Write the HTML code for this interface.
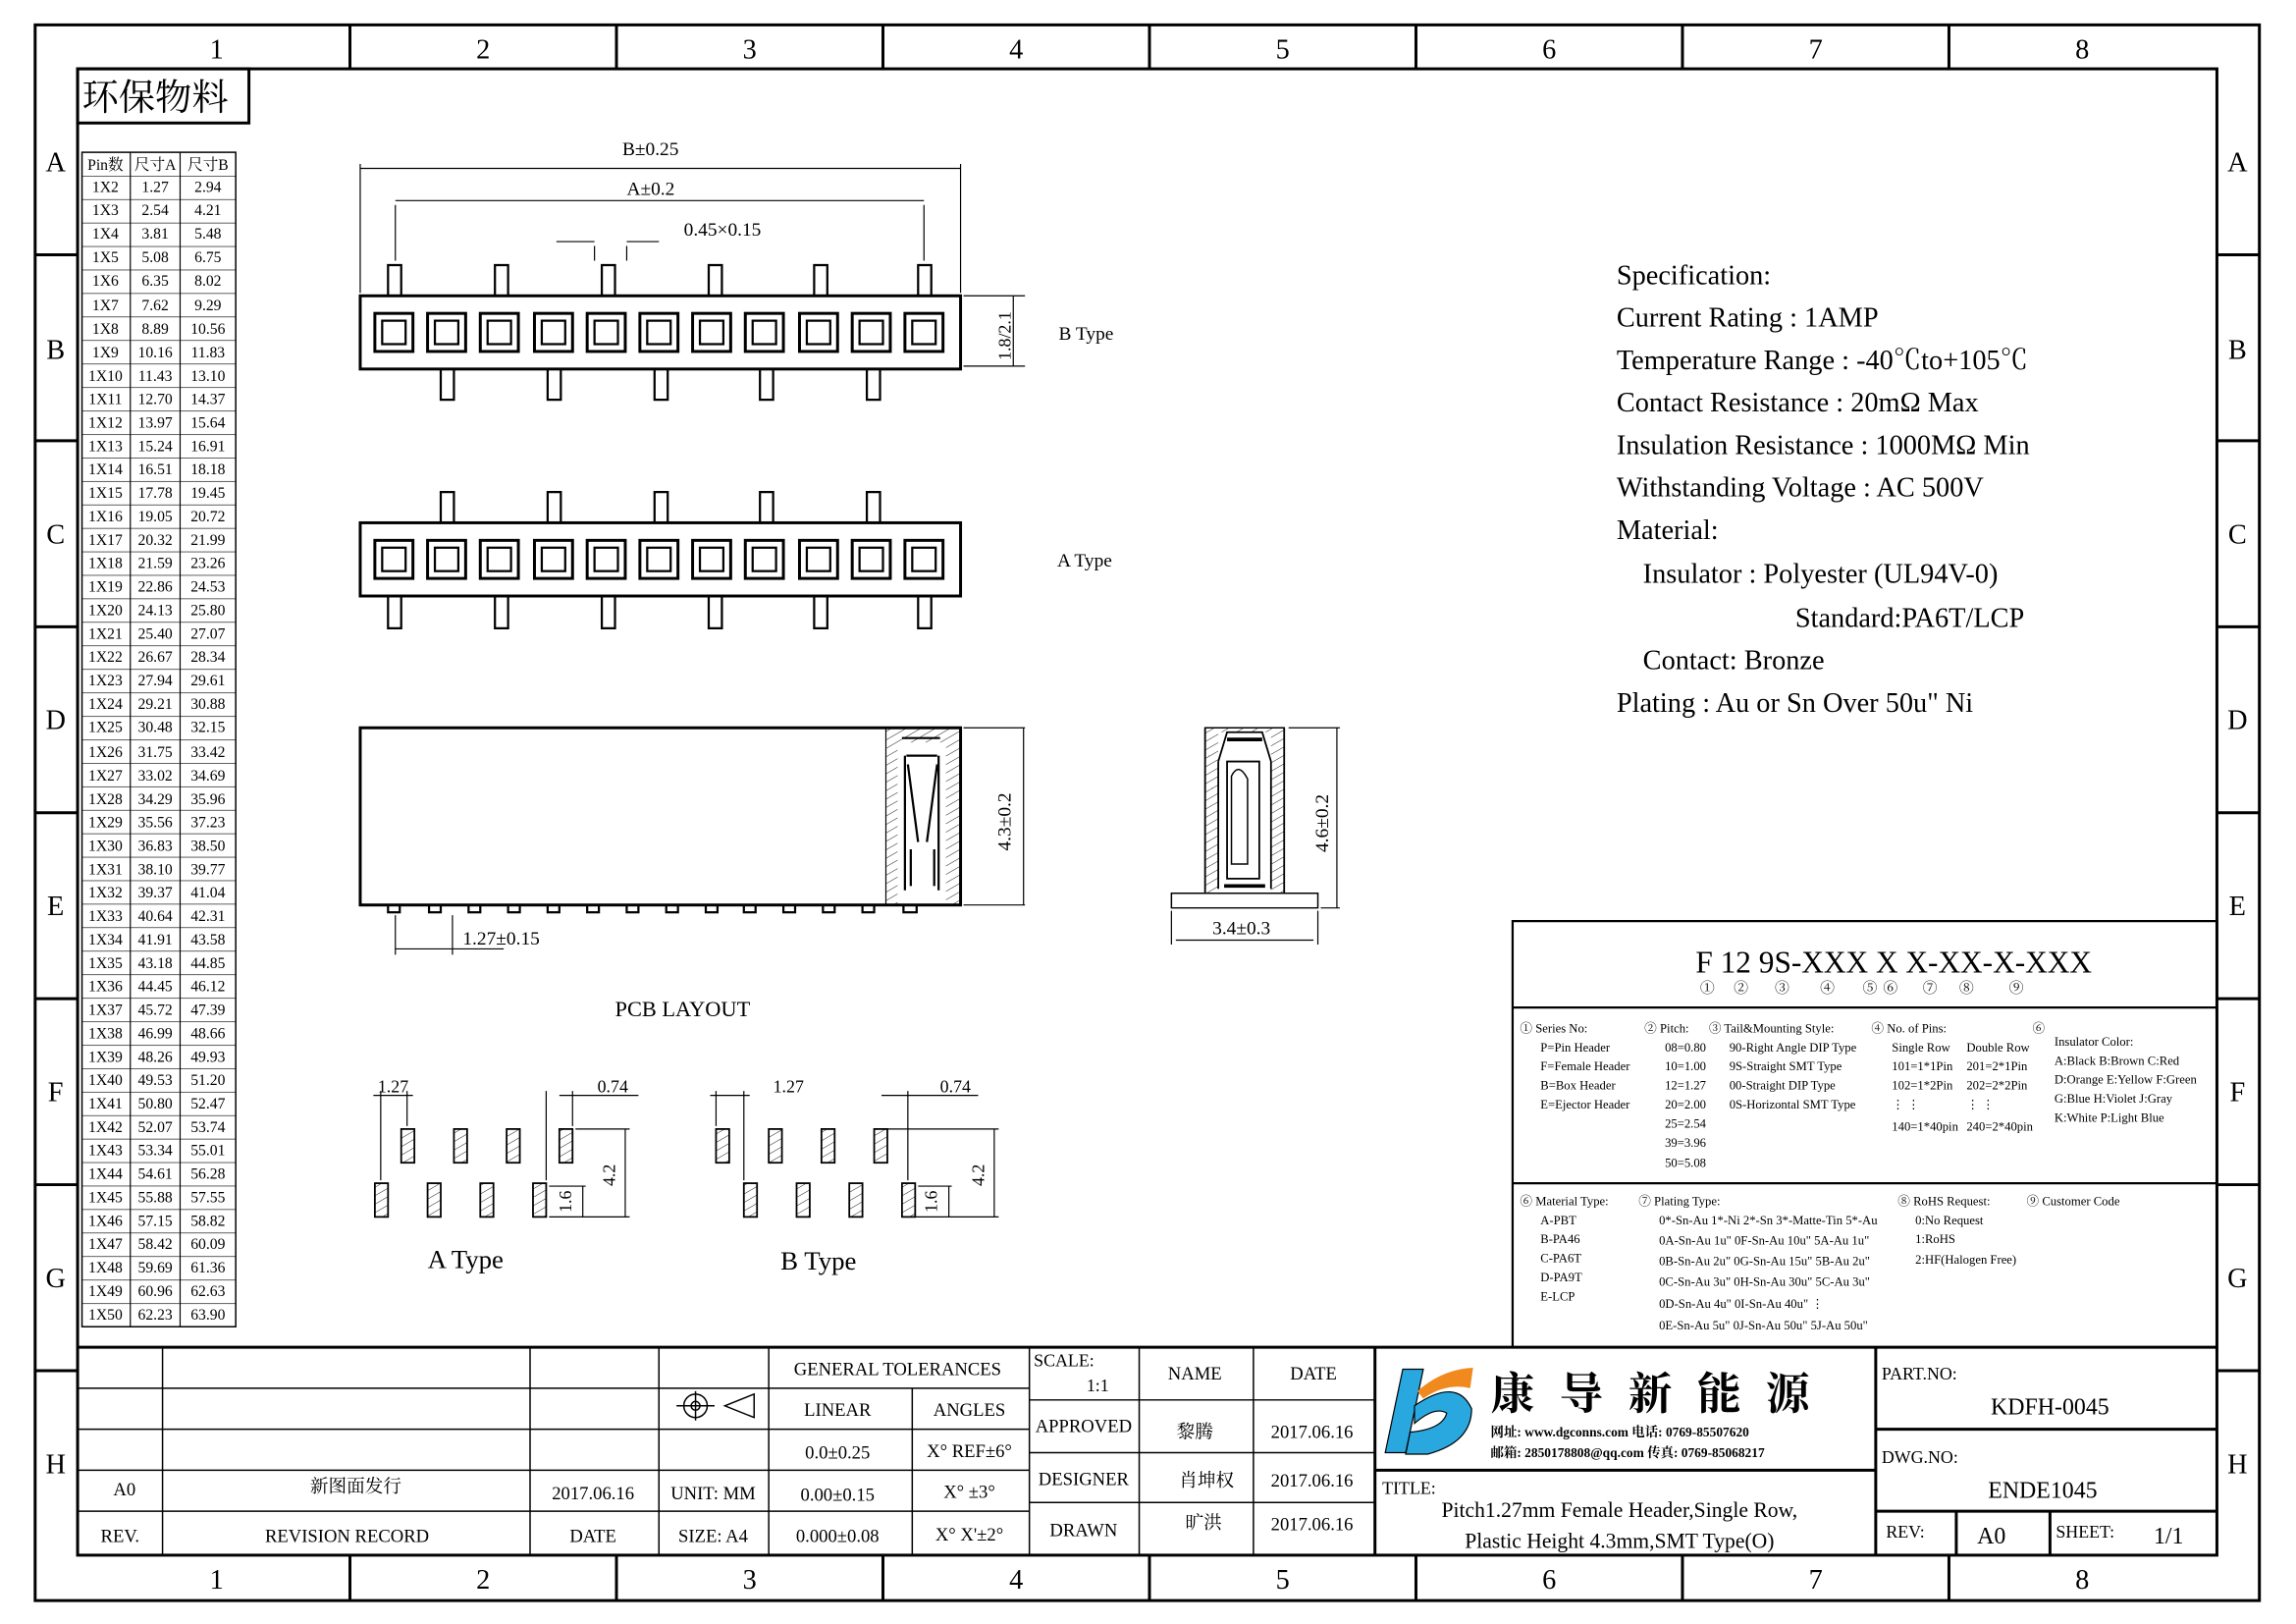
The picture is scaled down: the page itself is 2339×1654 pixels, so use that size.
<!DOCTYPE html>
<html><head><meta charset="utf-8"><style>
html,body{margin:0;padding:0;background:#fff}
svg{display:block}
text{font-family:"Liberation Serif","Noto Serif CJK SC",serif;fill:#000}
.s{font-family:"Liberation Sans","Noto Sans CJK SC",sans-serif}
</style></head><body>
<svg width="2339" height="1654" viewBox="0 0 1568 1109" preserveAspectRatio="none" xmlns="http://www.w3.org/2000/svg">
<defs>
<pattern id="h" width="5" height="5" patternUnits="userSpaceOnUse" patternTransform="rotate(60)"><line x1="0" y1="0" x2="0" y2="5" stroke="#000" stroke-width="0.6"/></pattern>
<pattern id="rl" x="0" y="120" width="200" height="16.04" patternUnits="userSpaceOnUse"><line x1="0" y1="0" x2="200" y2="0" stroke="#000" stroke-width="0.8"/></pattern>
</defs>
<rect width="1568" height="1109" fill="#fff"/>
<rect x="24" y="17" width="1519" height="1076" fill="none" stroke="#000" stroke-width="2"/>
<rect x="53" y="47" width="1461" height="1015" fill="none" stroke="#000" stroke-width="2"/>
<g stroke="#000" stroke-width="2">
<path d="M239 17V47M421 17V47M603 17V47M785 17V47M967 17V47M1149 17V47M1331 17V47M239 1062V1093M421 1062V1093M603 1062V1093M785 1062V1093M967 1062V1093M1149 1062V1093M1331 1062V1093"/>
<path d="M24 174H53M24 301H53M24 428H53M24 555H53M24 682H53M24 809H53M24 936H53M1514 174H1543M1514 301H1543M1514 428H1543M1514 555H1543M1514 682H1543M1514 809H1543M1514 936H1543"/>
</g>
<g font-size="19" text-anchor="middle" class="s">
<text x="148" y="40">1</text><text x="330" y="40">2</text><text x="512" y="40">3</text><text x="694" y="40">4</text><text x="876" y="40">5</text><text x="1058" y="40">6</text><text x="1240" y="40">7</text><text x="1422" y="40">8</text>
<text x="148" y="1085">1</text><text x="330" y="1085">2</text><text x="512" y="1085">3</text><text x="694" y="1085">4</text><text x="876" y="1085">5</text><text x="1058" y="1085">6</text><text x="1240" y="1085">7</text><text x="1422" y="1085">8</text>
<text x="38" y="117">A</text><text x="38" y="245">B</text><text x="38" y="371">C</text><text x="38" y="498">D</text><text x="38" y="625">E</text><text x="38" y="752">F</text><text x="38" y="879">G</text><text x="38" y="1006">H</text>
<text x="1528" y="117">A</text><text x="1528" y="245">B</text><text x="1528" y="371">C</text><text x="1528" y="498">D</text><text x="1528" y="625">E</text><text x="1528" y="752">F</text><text x="1528" y="879">G</text><text x="1528" y="1006">H</text>
</g>
<rect x="53" y="47" width="117" height="37" fill="none" stroke="#000" stroke-width="2"/>
<text x="56" y="75" font-size="25">环保物料</text>
<rect x="56" y="104" width="105" height="802" fill="none" stroke="#000" stroke-width="1"/>
<rect x="56" y="120" width="105" height="786" fill="url(#rl)"/>
<path d="M89 104V906M123 104V906" stroke="#000" stroke-width="0.8"/>
<g font-size="10.5" text-anchor="middle">
<text x="72" y="116">Pin数</text><text x="106" y="116">尺寸A</text><text x="142" y="116">尺寸B</text>
<text x="72" y="131">1X2</text><text x="106" y="131">1.27</text><text x="142" y="131">2.94</text>
<text x="72" y="147">1X3</text><text x="106" y="147">2.54</text><text x="142" y="147">4.21</text>
<text x="72" y="163">1X4</text><text x="106" y="163">3.81</text><text x="142" y="163">5.48</text>
<text x="72" y="179">1X5</text><text x="106" y="179">5.08</text><text x="142" y="179">6.75</text>
<text x="72" y="195">1X6</text><text x="106" y="195">6.35</text><text x="142" y="195">8.02</text>
<text x="72" y="212">1X7</text><text x="106" y="212">7.62</text><text x="142" y="212">9.29</text>
<text x="72" y="228">1X8</text><text x="106" y="228">8.89</text><text x="142" y="228">10.56</text>
<text x="72" y="244">1X9</text><text x="106" y="244">10.16</text><text x="142" y="244">11.83</text>
<text x="72" y="260">1X10</text><text x="106" y="260">11.43</text><text x="142" y="260">13.10</text>
<text x="72" y="276">1X11</text><text x="106" y="276">12.70</text><text x="142" y="276">14.37</text>
<text x="72" y="292">1X12</text><text x="106" y="292">13.97</text><text x="142" y="292">15.64</text>
<text x="72" y="308">1X13</text><text x="106" y="308">15.24</text><text x="142" y="308">16.91</text>
<text x="72" y="324">1X14</text><text x="106" y="324">16.51</text><text x="142" y="324">18.18</text>
<text x="72" y="340">1X15</text><text x="106" y="340">17.78</text><text x="142" y="340">19.45</text>
<text x="72" y="356">1X16</text><text x="106" y="356">19.05</text><text x="142" y="356">20.72</text>
<text x="72" y="372">1X17</text><text x="106" y="372">20.32</text><text x="142" y="372">21.99</text>
<text x="72" y="388">1X18</text><text x="106" y="388">21.59</text><text x="142" y="388">23.26</text>
<text x="72" y="404">1X19</text><text x="106" y="404">22.86</text><text x="142" y="404">24.53</text>
<text x="72" y="420">1X20</text><text x="106" y="420">24.13</text><text x="142" y="420">25.80</text>
<text x="72" y="436">1X21</text><text x="106" y="436">25.40</text><text x="142" y="436">27.07</text>
<text x="72" y="452">1X22</text><text x="106" y="452">26.67</text><text x="142" y="452">28.34</text>
<text x="72" y="468">1X23</text><text x="106" y="468">27.94</text><text x="142" y="468">29.61</text>
<text x="72" y="484">1X24</text><text x="106" y="484">29.21</text><text x="142" y="484">30.88</text>
<text x="72" y="500">1X25</text><text x="106" y="500">30.48</text><text x="142" y="500">32.15</text>
<text x="72" y="517">1X26</text><text x="106" y="517">31.75</text><text x="142" y="517">33.42</text>
<text x="72" y="533">1X27</text><text x="106" y="533">33.02</text><text x="142" y="533">34.69</text>
<text x="72" y="549">1X28</text><text x="106" y="549">34.29</text><text x="142" y="549">35.96</text>
<text x="72" y="565">1X29</text><text x="106" y="565">35.56</text><text x="142" y="565">37.23</text>
<text x="72" y="581">1X30</text><text x="106" y="581">36.83</text><text x="142" y="581">38.50</text>
<text x="72" y="597">1X31</text><text x="106" y="597">38.10</text><text x="142" y="597">39.77</text>
<text x="72" y="613">1X32</text><text x="106" y="613">39.37</text><text x="142" y="613">41.04</text>
<text x="72" y="629">1X33</text><text x="106" y="629">40.64</text><text x="142" y="629">42.31</text>
<text x="72" y="645">1X34</text><text x="106" y="645">41.91</text><text x="142" y="645">43.58</text>
<text x="72" y="661">1X35</text><text x="106" y="661">43.18</text><text x="142" y="661">44.85</text>
<text x="72" y="677">1X36</text><text x="106" y="677">44.45</text><text x="142" y="677">46.12</text>
<text x="72" y="693">1X37</text><text x="106" y="693">45.72</text><text x="142" y="693">47.39</text>
<text x="72" y="709">1X38</text><text x="106" y="709">46.99</text><text x="142" y="709">48.66</text>
<text x="72" y="725">1X39</text><text x="106" y="725">48.26</text><text x="142" y="725">49.93</text>
<text x="72" y="741">1X40</text><text x="106" y="741">49.53</text><text x="142" y="741">51.20</text>
<text x="72" y="757">1X41</text><text x="106" y="757">50.80</text><text x="142" y="757">52.47</text>
<text x="72" y="773">1X42</text><text x="106" y="773">52.07</text><text x="142" y="773">53.74</text>
<text x="72" y="789">1X43</text><text x="106" y="789">53.34</text><text x="142" y="789">55.01</text>
<text x="72" y="805">1X44</text><text x="106" y="805">54.61</text><text x="142" y="805">56.28</text>
<text x="72" y="821">1X45</text><text x="106" y="821">55.88</text><text x="142" y="821">57.55</text>
<text x="72" y="837">1X46</text><text x="106" y="837">57.15</text><text x="142" y="837">58.82</text>
<text x="72" y="853">1X47</text><text x="106" y="853">58.42</text><text x="142" y="853">60.09</text>
<text x="72" y="869">1X48</text><text x="106" y="869">59.69</text><text x="142" y="869">61.36</text>
<text x="72" y="885">1X49</text><text x="106" y="885">60.96</text><text x="142" y="885">62.63</text>
<text x="72" y="901">1X50</text><text x="106" y="901">62.23</text><text x="142" y="901">63.90</text>
</g>

<g stroke="#000" fill="none">
<path d="M246 112V200M656 112V200M270 140V178M631 140V178M406 168V178M428 168V178" stroke-width="0.8"/>
<path d="M246 115H656M270 137H631M380 165H406M428 165H450" stroke-width="0.8"/>
<rect x="246" y="202" width="410" height="50" stroke-width="2"/>
<g stroke-width="1.5">
<path d="M265 202V181H274V202M338 202V181H347V202M411 202V181H420V202M484 202V181H493V202M556 202V181H565V202M627 202V181H636V202"/>
<path d="M301 252V273H310V252M374 252V273H383V252M447 252V273H456V252M519 252V273H528V252M592 252V273H601V252"/>
</g>
<g stroke-width="2">
<rect x="256" y="214" width="26" height="26"/><rect x="292" y="214" width="26" height="26"/><rect x="328" y="214" width="26" height="26"/><rect x="365" y="214" width="26" height="26"/><rect x="401" y="214" width="26" height="26"/><rect x="437" y="214" width="26" height="26"/><rect x="473" y="214" width="26" height="26"/><rect x="509" y="214" width="26" height="26"/><rect x="546" y="214" width="26" height="26"/><rect x="582" y="214" width="26" height="26"/><rect x="618" y="214" width="26" height="26"/>
</g>
<g stroke-width="1.5">
<rect x="261" y="219" width="16" height="16"/><rect x="297" y="219" width="16" height="16"/><rect x="333" y="219" width="16" height="16"/><rect x="370" y="219" width="16" height="16"/><rect x="406" y="219" width="16" height="16"/><rect x="442" y="219" width="16" height="16"/><rect x="478" y="219" width="16" height="16"/><rect x="514" y="219" width="16" height="16"/><rect x="551" y="219" width="16" height="16"/><rect x="587" y="219" width="16" height="16"/><rect x="623" y="219" width="16" height="16"/>
</g>
<path d="M658 202H700M658 250H700M692 202V250" stroke-width="0.8"/>
</g>
<g font-size="13"><text x="425" y="106">B±0.25</text><text x="428" y="133">A±0.2</text><text x="467" y="161">0.45×0.15</text><text x="723" y="232">B Type</text></g>
<text x="0" y="0" font-size="12" transform="translate(690 246) rotate(-90)">1.8/2.1</text>

<g stroke="#000" fill="none">
<rect x="246" y="357" width="410" height="50" stroke-width="2"/>
<g stroke-width="1.5">
<path d="M301 357V336H310V357M374 357V336H383V357M447 357V336H456V357M519 357V336H528V357M592 357V336H601V357"/>
<path d="M265 407V429H274V407M338 407V429H347V407M411 407V429H420V407M484 407V429H493V407M556 407V429H565V407M627 407V429H636V407"/>
</g>
<g stroke-width="2">
<rect x="256" y="369" width="26" height="26"/><rect x="292" y="369" width="26" height="26"/><rect x="328" y="369" width="26" height="26"/><rect x="365" y="369" width="26" height="26"/><rect x="401" y="369" width="26" height="26"/><rect x="437" y="369" width="26" height="26"/><rect x="473" y="369" width="26" height="26"/><rect x="509" y="369" width="26" height="26"/><rect x="546" y="369" width="26" height="26"/><rect x="582" y="369" width="26" height="26"/><rect x="618" y="369" width="26" height="26"/>
</g>
<g stroke-width="1.5">
<rect x="261" y="374" width="16" height="16"/><rect x="297" y="374" width="16" height="16"/><rect x="333" y="374" width="16" height="16"/><rect x="370" y="374" width="16" height="16"/><rect x="406" y="374" width="16" height="16"/><rect x="442" y="374" width="16" height="16"/><rect x="478" y="374" width="16" height="16"/><rect x="514" y="374" width="16" height="16"/><rect x="551" y="374" width="16" height="16"/><rect x="587" y="374" width="16" height="16"/><rect x="623" y="374" width="16" height="16"/>
</g>
</g>
<text x="722" y="387" font-size="13">A Type</text>

<g stroke="#000" fill="none">
<rect x="605" y="497" width="51" height="121" fill="url(#h)" stroke-width="0.8"/>
<rect x="613" y="507" width="33" height="111" fill="#fff" stroke="none"/>
<rect x="246" y="497" width="410" height="121" stroke-width="2"/>
<path d="M616 504H642M619 516H640M618 516V608M641 516V608M620 522L627 575M640 522L633 575M622 580V605M638 580V605" stroke-width="1.5"/>
<g stroke-width="1.5">
<rect x="265" y="618" width="8" height="5"/><rect x="293" y="618" width="8" height="5"/><rect x="320" y="618" width="8" height="5"/><rect x="347" y="618" width="8" height="5"/><rect x="374" y="618" width="8" height="5"/><rect x="401" y="618" width="8" height="5"/><rect x="428" y="618" width="8" height="5"/><rect x="455" y="618" width="8" height="5"/><rect x="482" y="618" width="8" height="5"/><rect x="508" y="618" width="8" height="5"/><rect x="535" y="618" width="8" height="5"/><rect x="562" y="618" width="8" height="5"/><rect x="589" y="618" width="8" height="5"/><rect x="617" y="618" width="9" height="5"/>
</g>
<path d="M658 497H700M658 618H700M699 497V618M270 625V652M309 625V652M270 648H344" stroke-width="0.8"/>
</g>
<text x="316" y="645" font-size="13">1.27±0.15</text>
<text x="0" y="0" font-size="13" transform="translate(690 581) rotate(-90)">4.3±0.2</text>

<g stroke="#000" fill="none">
<rect x="823" y="497" width="54" height="113" fill="url(#h)" stroke-width="1"/>
<path d="M832 500H868V610H832Z" fill="#fff" stroke="none"/>
<path d="M823 497V612M877 497V612M832 520V607M868 520V607M832 520L838 500H862L868 520M838 520H860V600H838Z" stroke-width="1.2"/>
<path d="M841 530V590H852V532Q846 520 841 530Z" stroke-width="1"/>
<path d="M836 605H864M838 505H862" stroke-width="2.5"/>
<path d="M800 610H900V620H800Z" fill="#fff" stroke-width="1"/>
<path d="M800 622V645M900 622V645M803 642H897M880 497H915M902 620H915M913 497V620" stroke-width="0.8"/>
</g>
<text x="828" y="638" font-size="13">3.4±0.3</text>
<text x="0" y="0" font-size="13" transform="translate(907 582) rotate(-90)">4.6±0.2</text>

<text x="420" y="694" font-size="15">PCB LAYOUT</text>
<g stroke="#000" stroke-width="1.2" fill="url(#h)">
<rect x="274" y="771" width="9" height="23"/><rect x="310" y="771" width="9" height="23"/><rect x="346" y="771" width="9" height="23"/><rect x="382" y="771" width="9" height="23"/>
<rect x="256" y="808" width="9" height="23"/><rect x="292" y="808" width="9" height="23"/><rect x="328" y="808" width="9" height="23"/><rect x="364" y="808" width="9" height="23"/>
<rect x="489" y="771" width="9" height="23"/><rect x="525" y="771" width="9" height="23"/><rect x="561" y="771" width="9" height="23"/><rect x="597" y="771" width="9" height="23"/>
<rect x="508" y="808" width="9" height="23"/><rect x="544" y="808" width="9" height="23"/><rect x="580" y="808" width="9" height="23"/><rect x="616" y="808" width="9" height="23"/>
</g>
<g stroke="#000" stroke-width="0.8" fill="none">
<path d="M260 745V806M278 745V769M255 748H282M382 748H436M373 745V806M391 745V769M375 831H430M393 771H430M427 771V831M375 810H400M398 810V831"/>
<path d="M489 745V769M508 745V806M485 748H512M602 748H668M620 745V806M625 831H682M606 771H682M679 771V831M627 810H650M648 810V831"/>
</g>
<g font-size="12"><text x="258" y="746">1.27</text><text x="408" y="746">0.74</text><text x="528" y="746">1.27</text><text x="642" y="746">0.74</text></g>
<g font-size="12"><text transform="translate(420 810) rotate(-90)">4.2</text><text transform="translate(390 828) rotate(-90)">1.6</text><text transform="translate(672 810) rotate(-90)">4.2</text><text transform="translate(640 828) rotate(-90)">1.6</text></g>
<text x="292" y="866" font-size="18">A Type</text><text x="533" y="867" font-size="18">B Type</text>

<g font-size="19">
<text x="1104" y="194">Specification:</text>
<text x="1104" y="223">Current Rating : 1AMP</text>
<text x="1104" y="252">Temperature Range : -40℃to+105℃</text>
<text x="1104" y="281">Contact Resistance : 20mΩ Max</text>
<text x="1104" y="310">Insulation Resistance : 1000MΩ Min</text>
<text x="1104" y="339">Withstanding Voltage : AC 500V</text>
<text x="1104" y="368">Material:</text>
<text x="1122" y="398">Insulator : Polyester (UL94V-0)</text>
<text x="1226" y="428">Standard:PA6T/LCP</text>
<text x="1122" y="457">Contact: Bronze</text>
<text x="1104" y="486">Plating : Au or Sn Over 50u" Ni</text>
</g>

<g stroke="#000" fill="none" stroke-width="1.5">
<rect x="1033" y="629" width="481" height="291"/>
<path d="M1033 688H1514M1033 808H1514"/>
</g>
<text x="1158" y="664" font-size="21">F 12 9S-XXX X X-XX-X-XXX</text>
<g font-size="10" text-anchor="middle"><text x="1166" y="678">①</text><text x="1189" y="678">②</text><text x="1217" y="678">③</text><text x="1248" y="678">④</text><text x="1277" y="678">⑤</text><text x="1291" y="678">⑥</text><text x="1318" y="678">⑦</text><text x="1343" y="678">⑧</text><text x="1377" y="678">⑨</text></g>
<g font-size="8.5">
<text x="1038" y="705">① Series No:</text><text x="1052" y="718">P=Pin Header</text><text x="1052" y="731">F=Female Header</text><text x="1052" y="744">B=Box Header</text><text x="1052" y="757">E=Ejector Header</text>
<text x="1123" y="705">② Pitch:</text><text x="1137" y="718">08=0.80</text><text x="1137" y="731">10=1.00</text><text x="1137" y="744">12=1.27</text><text x="1137" y="757">20=2.00</text><text x="1137" y="770">25=2.54</text><text x="1137" y="783">39=3.96</text><text x="1137" y="797">50=5.08</text>
<text x="1167" y="705">③ Tail&amp;Mounting Style:</text><text x="1181" y="718">90-Right Angle DIP Type</text><text x="1181" y="731">9S-Straight SMT Type</text><text x="1181" y="744">00-Straight DIP Type</text><text x="1181" y="757">0S-Horizontal SMT Type</text>
<text x="1278" y="705">④ No. of Pins:</text><text x="1292" y="718">Single Row</text><text x="1343" y="718">Double Row</text><text x="1292" y="731">101=1*1Pin</text><text x="1343" y="731">201=2*1Pin</text><text x="1292" y="744">102=1*2Pin</text><text x="1343" y="744">202=2*2Pin</text><text x="1292" y="757">⋮   ⋮</text><text x="1343" y="757">⋮   ⋮</text><text x="1292" y="772">140=1*40pin</text><text x="1343" y="772">240=2*40pin</text>
<text x="1388" y="705">⑥</text><text x="1403" y="714">Insulator Color:</text><text x="1403" y="727">A:Black  B:Brown  C:Red</text><text x="1403" y="740">D:Orange E:Yellow F:Green</text><text x="1403" y="753">G:Blue   H:Violet J:Gray</text><text x="1403" y="766">K:White  P:Light Blue</text>
<text x="1038" y="823">⑥ Material Type:</text><text x="1052" y="836">A-PBT</text><text x="1052" y="849">B-PA46</text><text x="1052" y="862">C-PA6T</text><text x="1052" y="875">D-PA9T</text><text x="1052" y="888">E-LCP</text>
<text x="1119" y="823">⑦ Plating Type:</text><text x="1133" y="836">0*-Sn-Au 1*-Ni 2*-Sn 3*-Matte-Tin 5*-Au</text><text x="1133" y="850">0A-Sn-Au 1u" 0F-Sn-Au 10u"  5A-Au 1u"</text><text x="1133" y="864">0B-Sn-Au 2u" 0G-Sn-Au 15u"  5B-Au 2u"</text><text x="1133" y="878">0C-Sn-Au 3u" 0H-Sn-Au 30u"  5C-Au 3u"</text><text x="1133" y="893">0D-Sn-Au 4u" 0I-Sn-Au 40u"      ⋮</text><text x="1133" y="908">0E-Sn-Au 5u" 0J-Sn-Au 50u"  5J-Au 50u"</text>
<text x="1296" y="823">⑧ RoHS Request:</text><text x="1308" y="836">0:No Request</text><text x="1308" y="849">1:RoHS</text><text x="1308" y="863">2:HF(Halogen Free)</text>
<text x="1384" y="823">⑨ Customer Code</text>
</g>

<g stroke="#000" fill="none">
<path d="M53 920H1514" stroke-width="2"/>
<path d="M53 948H450M53 976H450M53 1004H450M53 1032H450" stroke-width="1"/>
<path d="M450 948H703M450 976H703M450 1004H703M450 1032H703" stroke-width="1"/>
<path d="M703 956H939M703 992H939M703 1026H939" stroke-width="1"/>
<path d="M939 1004H1281M1281 976H1514M1281 1032H1514" stroke-width="2"/>
<path d="M111 920V1062M362 920V1062M450 920V1062M525 920V1062M623 948V1062M703 920V1062M778 920V1062M856 920V1062" stroke-width="1"/>
<path d="M939 920V1062M1281 920V1062M1336 1032V1062M1400 1032V1062" stroke-width="2"/>
<circle cx="475" cy="960" r="8" stroke-width="1"/><circle cx="475" cy="960" r="3" stroke-width="1"/>
<path d="M462 960H488M475 950V970M495 960L515 952V968Z" stroke-width="1"/>
</g>
<g font-size="12.5" text-anchor="middle">
<text x="613" y="939">GENERAL TOLERANCES</text>
<text x="572" y="967">LINEAR</text><text x="662" y="967">ANGLES</text>
<text x="572" y="996">0.0±0.25</text><text x="662" y="995">X° REF±6°</text>
<text x="572" y="1025">0.00±0.15</text><text x="662" y="1023">X° ±3°</text>
<text x="572" y="1053">0.000±0.08</text><text x="662" y="1052">X° X'±2°</text>
<text x="487" y="1024">UNIT: MM</text><text x="487" y="1053">SIZE: A4</text>
<text x="816" y="942">NAME</text><text x="897" y="942">DATE</text>
<text x="740" y="978">APPROVED</text><text x="816" y="982">黎腾</text><text x="896" y="982">2017.06.16</text>
<text x="740" y="1014">DESIGNER</text><text x="824" y="1015">肖坤权</text><text x="896" y="1015">2017.06.16</text>
<text x="740" y="1049">DRAWN</text><text x="822" y="1044">旷洪</text><text x="896" y="1045">2017.06.16</text>
<text x="85" y="1021">A0</text><text x="243" y="1019">新图面发行</text><text x="405" y="1024">2017.06.16</text>
<text x="82" y="1053">REV.</text><text x="237" y="1053">REVISION RECORD</text><text x="405" y="1053">DATE</text>
<text x="1400" y="966" font-size="16">KDFH-0045</text>
<text x="1395" y="1023" font-size="16">ENDE1045</text>
<text x="1360" y="1054" font-size="16">A0</text>
<text x="1481" y="1054" font-size="16">1/1</text>
</g>
<g font-size="12"><text x="706" y="933">SCALE:</text><text x="742" y="950">1:1</text>
<text x="1285" y="942">PART.NO:</text><text x="1285" y="999">DWG.NO:</text><text x="1288" y="1050">REV:</text><text x="1404" y="1050">SHEET:</text>
<text x="944" y="1020">TITLE:</text></g>
<g font-size="14.5" text-anchor="middle"><text x="1106" y="1036">Pitch1.27mm Female Header,Single Row,</text><text x="1106" y="1057">Plastic Height 4.3mm,SMT Type(O)</text></g>
<path d="M958 935L972 935L960 992L946 992Z" fill="#29a8e0" stroke="#000" stroke-width="0.8"/>
<path d="M966 960Q995 940 1005 962Q1005 985 975 993L960 993L963 978Q985 976 988 965Q980 960 966 972Z" fill="#29a8e0" stroke="#000" stroke-width="0.8"/>
<path d="M968 950Q985 935 1006 934L1004 948Q988 944 972 955Z" fill="#f08a1e"/>
<g class="s" font-weight="bold"><text x="1018" y="962" font-size="30" letter-spacing="17">康导新能源</text>
<text x="1018" y="981" font-size="9">网址: www.dgconns.com   电话: 0769-85507620</text>
<text x="1018" y="995" font-size="9">邮箱: 2850178808@qq.com 传真: 0769-85068217</text></g>
</svg>
</body></html>
